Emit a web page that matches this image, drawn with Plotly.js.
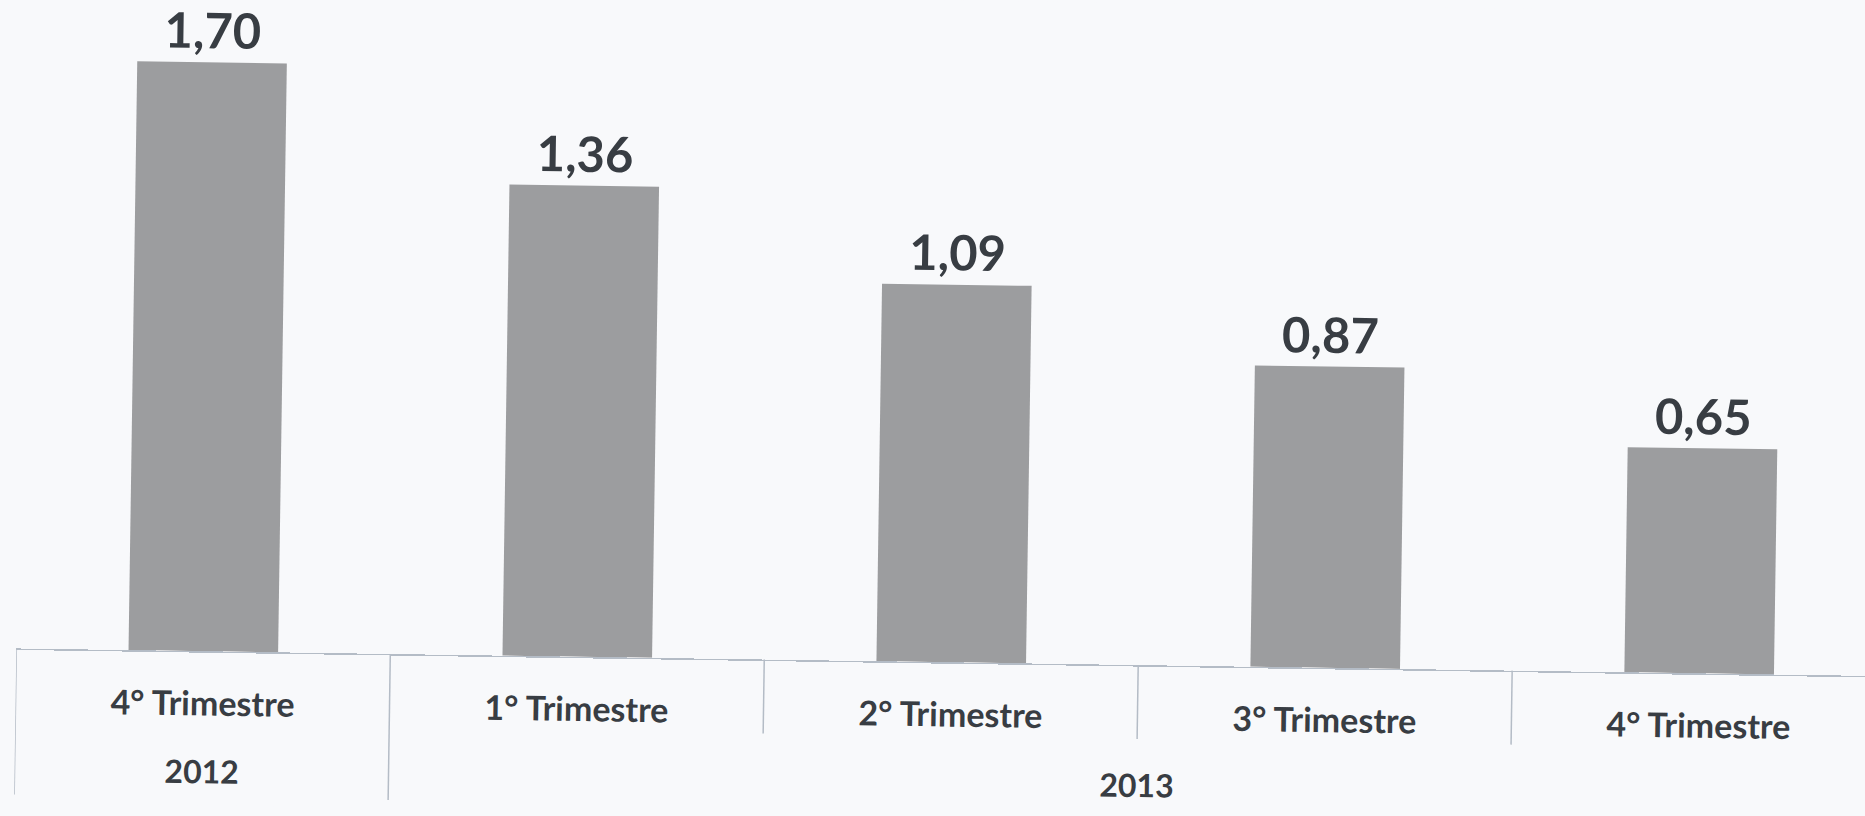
<!DOCTYPE html>
<html>
<head>
<meta charset="utf-8">
<script src="https://cdn.plot.ly/plotly-3.0.1.min.js"></script>
<style>
  html, body { margin: 0; padding: 0; background: #f8f9fb; overflow: hidden; width: 1865px; height: 816px; }
  #chart { width: 1900px; height: 816px; transform: rotate(0.85deg); transform-origin: 932px 408px; }
</style>
</head>
<body>
<div id="chart"></div>
<script>
const categories = ['4° Trimestre', '1° Trimestre', '2° Trimestre', '3° Trimestre', '4° Trimestre'];
const values = [1.70, 1.36, 1.09, 0.87, 0.65];
const years = ['2012', '2013'];
const yearSpans = [[0, 0], [1, 4]];

const idx = categories.map((_, i) => i);
const fmt = v => v.toFixed(2).replace('.', ',');
const textColor = '#383d43';
const lineColor = '#b4bcc6';

const trace = {
  type: 'bar',
  x: idx,
  y: values,
  marker: { color: '#9c9d9f', line: { width: 0 } },
  hoverinfo: 'skip'
};

const annotations = values.map((v, i) => ({
  x: i, y: v, xref: 'x', yref: 'y',
  text: fmt(v), showarrow: false,
  yanchor: 'bottom', yshift: 2,
  font: { family: 'Lato', size: 49, color: textColor, weight: 700 }
}));
years.forEach((yr, k) => {
  const [a, b] = yearSpans[k];
  annotations.push({
    x: (a + b) / 2, y: 0, xref: 'x', yref: 'y',
    text: yr, showarrow: false, yanchor: 'middle', yshift: -119,
    font: { family: 'Lato', size: 32, color: textColor, weight: 700 }
  });
});

const shapes = [];
for (let i = 0; i < categories.length; i++) {
  const xb = i - 0.5;
  const isGroupEdge = yearSpans.some(s => s[0] === i);
  shapes.push({
    type: 'line', xref: 'x', yref: 'paper',
    ysizemode: 'pixel', yanchor: 0,
    x0: xb, x1: xb, y0: 0, y1: isGroupEdge ? -146 : -74,
    line: { color: lineColor, width: 1.5 }
  });
}

const layout = {
  width: 1900, height: 816,
  margin: { l: 20, r: 10, t: 0, b: 154 },
  paper_bgcolor: '#f8f9fb',
  plot_bgcolor: 'rgba(0,0,0,0)',
  bargap: 0.6,
  showlegend: false,
  xaxis: {
    range: [-0.5, 4.5],
    tickvals: idx, ticktext: categories,
    showline: true, linecolor: lineColor, linewidth: 1.5,
    showgrid: false, zeroline: false, ticks: '',
    ticklabelstandoff: 22,
    tickfont: { family: 'Lato', size: 34, color: textColor, weight: 700 }
  },
  yaxis: {
    range: [0, 1.911], visible: false, showgrid: false, zeroline: false
  },
  annotations: annotations,
  shapes: shapes
};

Plotly.newPlot('chart', [trace], layout, { staticPlot: true, displayModeBar: false });
</script>
</body>
</html>
